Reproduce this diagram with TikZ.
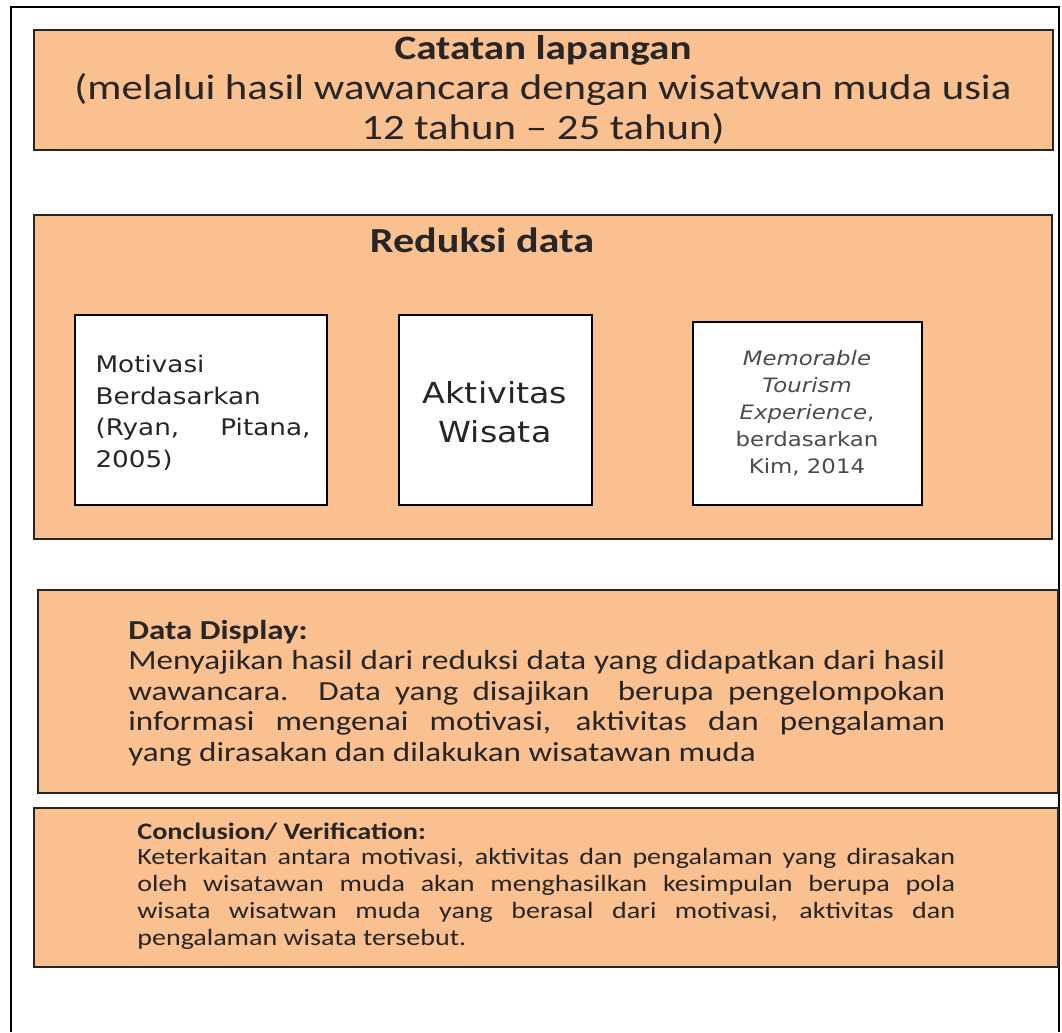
\documentclass[tikz,border=0pt]{standalone}
\usepackage{fontspec}
\setmainfont[FakeStretch=1.2]{Carlito}
\newfontfamily\boxfont[FakeStretch=1.15]{DejaVu Sans}
\usepackage{tikz}
\usetikzlibrary{shadows}
\definecolor{peach}{RGB}{250,192,143}
\definecolor{rim}{RGB}{38,38,38}
\tikzset{
  stagebox/.style={fill=peach, draw=rim, line width=1.6pt,
    drop shadow={shadow xshift=0.8pt, shadow yshift=-0.8pt, opacity=0.35}},
  itembox/.style={fill=white, draw=black, line width=1.6pt},
  plain/.style={inner sep=0pt, text=black!85}
}

\begin{document}
\begin{tikzpicture}[x=0.02cm,y=-0.02cm]
\useasboundingbox (0,0) rectangle (1062,1032);
% outer frame (open at the bottom)
\draw [line width=0.9pt] (11,1032) -- (11,7) -- (1059,7) -- (1059,1032);
% stages
\draw [stagebox] (34,30) rectangle (1053,150);
\draw [stagebox] (34,215) rectangle (1052,539);
\draw [stagebox] (38,590) rectangle (1058,793);
\draw [stagebox] (34,808) rectangle (1058,967);
% reduksi data items
\draw [itembox] (75,315) rectangle (327,505);
\draw [itembox] (399,315) rectangle (592,505);
\draw [itembox] (693,322) rectangle (922,505);
% texts
\node [plain, align=center, font=\fontsize{20.3}{22.7}\selectfont] (catatan) at (543,90)
  {\textbf{\fontsize{19.5}{22.7}\selectfont Catatan lapangan}\\(melalui hasil wawancara dengan wisatwan muda usia\\12 tahun -- 25 tahun)};
\node [plain, font=\fontsize{20}{22.7}\selectfont\bfseries] (reduksi) at (482,240) {Reduksi data};
\node [plain, align=left, text width=4.3cm, font=\boxfont\fontsize{13}{18}\selectfont] (motivasi) at (203,413)
  {Motivasi\\Berdasarkan\\(Ryan,\hfill Pitana,\\2005)};
\node [plain, align=center, font=\boxfont\fontsize{16.5}{22}\selectfont] (aktivitas) at (495,412)
  {Aktivitas\\Wisata};
\node [plain, align=center, text=black!70, font=\boxfont\fontsize{11.3}{15.3}\selectfont] (mte) at (807,413)
  {\textit{Memorable}\\\textit{Tourism}\\\textit{Experience},\\berdasarkan\\Kim, 2014};
\node [plain, anchor=west, font=\fontsize{15.6}{17}\selectfont\bfseries] (displaytitle) at (128,632) {Data Display:};
\node [plain, anchor=north west, align=justify, text width=16.34cm, font=\fontsize{15.7}{17.4}\selectfont] (display) at (128,650)
  {Menyajikan hasil dari reduksi data yang didapatkan dari hasil\linebreak wawancara. Data yang disajikan\ \ berupa pengelompokan\linebreak informasi mengenai motivasi, aktivitas dan pengalaman\linebreak yang dirasakan dan dilakukan wisatawan muda};
\node [plain, anchor=west, font=\fontsize{13.4}{15.3}\selectfont\bfseries] (conctitle) at (137,832) {Conclusion/ Verification:};
\node [plain, anchor=north west, align=justify, text width=16.36cm, font=\fontsize{13.3}{15.3}\selectfont] (conclusion) at (137,848)
  {Keterkaitan antara motivasi, aktivitas dan pengalaman yang dirasakan\linebreak oleh wisatawan muda akan menghasilkan kesimpulan berupa pola\linebreak wisata wisatwan muda yang berasal dari motivasi, aktivitas dan\linebreak pengalaman wisata tersebut.};
\end{tikzpicture}
\end{document}
